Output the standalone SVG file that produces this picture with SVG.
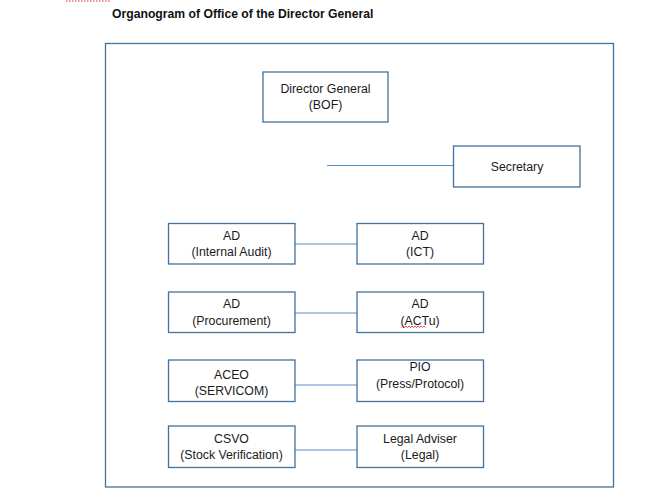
<svg xmlns="http://www.w3.org/2000/svg" width="656" height="501" viewBox="0 0 656 501">
<style>
.box{fill:#fff;stroke:#41719C;stroke-width:1.3}
.lbl{font-family:"Liberation Sans",Arial,sans-serif;font-size:12.3px;fill:#1a1a1a;text-anchor:middle}
.con{stroke:#5B8FC7;stroke-width:1.1;fill:none}
</style>
<rect width="656" height="501" fill="#fff"/>
<line x1="66" y1="1" x2="111" y2="1" stroke="#e03030" stroke-width="1.2" stroke-dasharray="1.5,1.5"/>
<text x="112" y="18" font-family="Liberation Sans,Arial,sans-serif" font-weight="bold" font-size="12.2px" fill="#111">Organogram of Office of the Director General</text>
<rect x="105.5" y="43.5" width="508" height="443.5" fill="none" stroke="#41719C" stroke-width="1.3"/>
<g id="connectors">
<line class="con" x1="327" y1="165.5" x2="453.5" y2="165.5"/>
<line class="con" x1="295" y1="244" x2="357" y2="244"/>
<line class="con" x1="295" y1="313" x2="357" y2="313"/>
<line class="con" x1="295" y1="385" x2="357" y2="385"/>
<line class="con" x1="295" y1="450" x2="357" y2="450"/>
</g>
<g id="dg"><rect class="box" x="263" y="72" width="125" height="50"/>
<text class="lbl" x="325.5" y="93">Director General</text><text class="lbl" x="325.5" y="109">(BOF)</text></g>
<g id="secretary"><rect class="box" x="453.5" y="146" width="126.5" height="41"/>
<text class="lbl" x="517" y="170.5">Secretary</text></g>
<g id="ad-internal-audit"><rect class="box" x="168.5" y="223.5" width="126.5" height="40.5"/>
<text class="lbl" x="231.5" y="240">AD</text><text class="lbl" x="231.5" y="256">(Internal Audit)</text></g>
<g id="ad-ict"><rect class="box" x="357" y="223.5" width="126.5" height="40.5"/>
<text class="lbl" x="420" y="240">AD</text><text class="lbl" x="420" y="256">(ICT)</text></g>
<g id="ad-procurement"><rect class="box" x="168.5" y="292" width="126.5" height="40.5"/>
<text class="lbl" x="231.5" y="308">AD</text><text class="lbl" x="231.5" y="324.5">(Procurement)</text></g>
<g id="ad-actu"><rect class="box" x="357" y="292" width="126.5" height="40.5"/>
<text class="lbl" x="420" y="308">AD</text><text class="lbl" x="420" y="324.5">(ACTu)</text>
<path d="M401.5,327.5 l1.5,-1.5 l1.5,1.5 l1.5,-1.5 l1.5,1.5 l1.5,-1.5 l1.5,1.5 l1.5,-1.5 l1.5,1.5 l1.5,-1.5 l1.5,1.5 l1.5,-1.5 l1.5,1.5 l1.5,-1.5 l1.5,1.5 l1.5,-1.5 l1.5,1.5" fill="none" stroke="#e02020" stroke-width="0.8"/></g>
<g id="aceo"><rect class="box" x="168.5" y="360" width="126.5" height="41.5"/>
<text class="lbl" x="231.5" y="378.5">ACEO</text><text class="lbl" x="231.5" y="395">(SERVICOM)</text></g>
<g id="pio"><rect class="box" x="357" y="360" width="126.5" height="41.5"/>
<text class="lbl" x="420" y="371">PIO</text><text class="lbl" x="420" y="388">(Press/Protocol)</text></g>
<g id="csvo"><rect class="box" x="168.5" y="426" width="126.5" height="41.5"/>
<text class="lbl" x="231.5" y="442.5">CSVO</text><text class="lbl" x="231.5" y="459">(Stock Verification)</text></g>
<g id="legal"><rect class="box" x="357" y="426" width="126.5" height="41.5"/>
<text class="lbl" x="420" y="442.5">Legal Adviser</text><text class="lbl" x="420" y="459">(Legal)</text></g>
</svg>
